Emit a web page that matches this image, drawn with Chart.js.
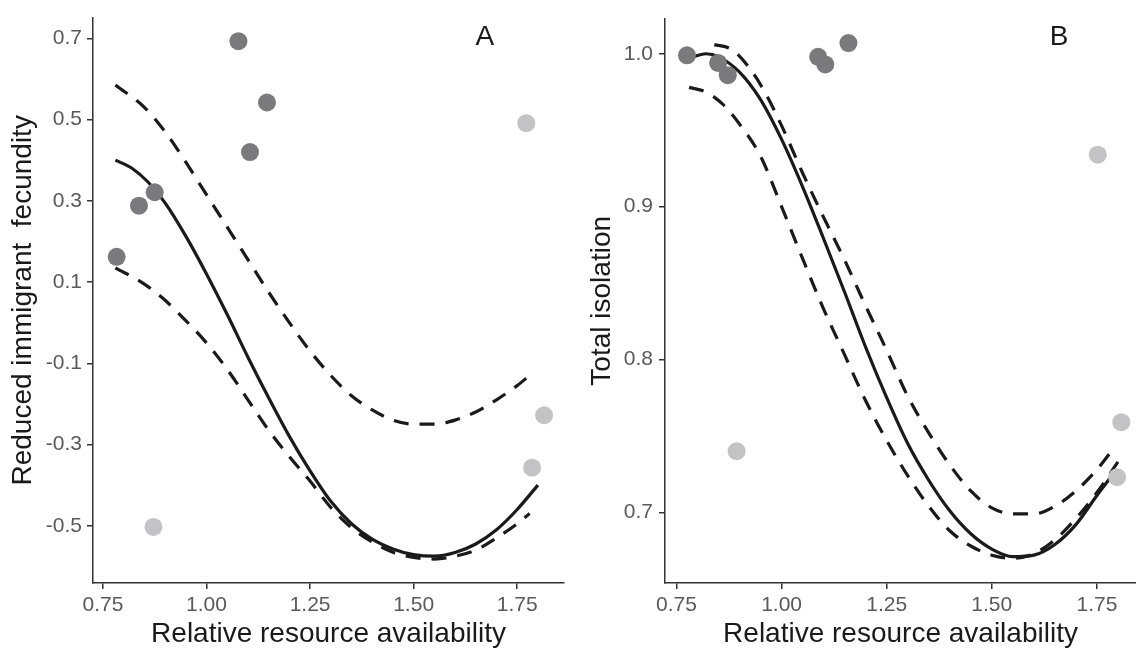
<!DOCTYPE html>
<html>
<head>
<meta charset="utf-8">
<script src="https://cdn.jsdelivr.net/npm/chart.js@4/dist/chart.umd.min.js"></script>
<style>
  body { margin: 0; background: #fff; }
  #wrap { position: relative; width: 1136px; height: 648px; }
  canvas { position: absolute; top: 0; }
  #panelA { left: 0; }
  #panelB { left: 568px; }
</style>
</head>
<body>
<div id="wrap">
  <canvas id="panelA" width="568" height="648"></canvas>
  <canvas id="panelB" width="568" height="648"></canvas>
</div>
<script>
// tick labels
const xTicks = [0.75, 1.00, 1.25, 1.50, 1.75];
const yTicksA = [-0.5, -0.3, -0.1, 0.1, 0.3, 0.5, 0.7];
const yTicksB = [0.7, 0.8, 0.9, 1.0];

// panel A: reduced immigrant fecundity
const darkXA = [0.783, 0.837, 0.875, 1.077, 1.105, 1.146];
const darkYA = [0.162, 0.288, 0.321, 0.693, 0.420, 0.542];
const lightXA = [0.872, 1.772, 1.815, 1.786];
const lightYA = [-0.503, 0.491, -0.228, -0.357];

const fitXA = [0.78, 0.82, 0.86, 0.90, 0.95, 1.00, 1.05, 1.10, 1.15, 1.20, 1.25, 1.30, 1.35, 1.40, 1.45, 1.50, 1.55, 1.60, 1.65, 1.70, 1.75, 1.80];
const fitYA = [0.40, 0.38, 0.345, 0.295, 0.213, 0.12, 0.02, -0.085, -0.185, -0.28, -0.365, -0.44, -0.495, -0.533, -0.557, -0.571, -0.575, -0.566, -0.545, -0.51, -0.46, -0.40];
const bandXA = [0.78, 0.85, 0.90, 0.95, 1.00, 1.05, 1.10, 1.15, 1.20, 1.25, 1.30, 1.35, 1.40, 1.45, 1.50, 1.55, 1.60, 1.65, 1.70, 1.75, 1.78];
const upperYA = [0.585, 0.53, 0.47, 0.395, 0.315, 0.235, 0.155, 0.075, 0.0, -0.07, -0.13, -0.18, -0.215, -0.24, -0.25, -0.25, -0.24, -0.22, -0.19, -0.155, -0.13];
const lowerYA = [0.135, 0.095, 0.055, 0.005, -0.05, -0.115, -0.19, -0.265, -0.33, -0.39, -0.455, -0.505, -0.54, -0.565, -0.578, -0.582, -0.575, -0.56, -0.53, -0.495, -0.47];

// panel B: total isolation
const darkXB = [0.775, 0.849, 0.872, 1.087, 1.104, 1.159];
const darkYB = [0.999, 0.994, 0.986, 0.998, 0.993, 1.007];
const lightXB = [0.893, 1.752, 1.808, 1.798];
const lightYB = [0.740, 0.934, 0.759, 0.723];

const fitXB = [0.79, 0.82, 0.85, 0.90, 0.95, 1.00, 1.05, 1.10, 1.15, 1.20, 1.25, 1.30, 1.35, 1.40, 1.45, 1.50, 1.55, 1.60, 1.65, 1.70, 1.75, 1.78];
const fitYB = [0.998, 1.000, 0.998, 0.988, 0.970, 0.944, 0.913, 0.879, 0.844, 0.808, 0.775, 0.745, 0.721, 0.701, 0.686, 0.676, 0.671, 0.672, 0.679, 0.692, 0.711, 0.722];
const upperXB = [0.84, 0.88, 0.92, 0.96, 1.00, 1.05, 1.10, 1.15, 1.20, 1.25, 1.30, 1.35, 1.40, 1.45, 1.50, 1.55, 1.60, 1.65, 1.70, 1.75, 1.79];
const upperYB = [1.006, 1.003, 0.992, 0.975, 0.953, 0.922, 0.893, 0.865, 0.835, 0.806, 0.776, 0.752, 0.731, 0.714, 0.703, 0.699, 0.699, 0.704, 0.714, 0.728, 0.742];
const lowerXB = [0.78, 0.82, 0.86, 0.90, 0.95, 1.00, 1.05, 1.10, 1.15, 1.20, 1.25, 1.30, 1.35, 1.40, 1.45, 1.50, 1.55, 1.60, 1.65, 1.70, 1.75, 1.80];
const lowerYB = [0.978, 0.975, 0.967, 0.954, 0.933, 0.900, 0.866, 0.833, 0.803, 0.773, 0.747, 0.724, 0.704, 0.688, 0.678, 0.672, 0.670, 0.673, 0.682, 0.696, 0.713, 0.733];

const darkGrey = '#7a7a7d';
const lightGrey = '#c3c3c5';
const ink = '#1a1a1a';
const fontFam = '"Liberation Sans", Arial, sans-serif';

function pts(xs, ys) {
  return xs.map((x, i) => ({ x: x, y: ys[i] }));
}

const letterPlugin = {
  id: 'panelLetter',
  afterDraw(chart, args, o) {
    const ctx = chart.ctx;
    ctx.save();
    ctx.font = '28px ' + fontFam;
    ctx.fillStyle = ink;
    ctx.textAlign = 'center';
    ctx.textBaseline = 'middle';
    ctx.fillText(o.text, chart.scales.x.getPixelForValue(o.x), chart.scales.y.getPixelForValue(o.y));
    ctx.restore();
  }
};

function pointSet(data, color) {
  return { data: data, showLine: false, pointRadius: 9, pointHoverRadius: 9,
           backgroundColor: color, borderWidth: 0, order: 0 };
}
function curve(data, dash) {
  return { data: data, showLine: true, pointRadius: 0, borderColor: ink, borderWidth: 3.2,
           borderDash: dash, borderCapStyle: 'butt', cubicInterpolationMode: 'monotone',
           fill: false, order: 1 };
}

function makePanel(id, p) {
  new Chart(document.getElementById(id), {
    type: 'scatter',
    data: {
      datasets: [
        pointSet(pts(p.darkX, p.darkY), darkGrey),
        pointSet(pts(p.lightX, p.lightY), lightGrey),
        curve(pts(p.fitX, p.fitY), []),
        curve(pts(p.upX, p.upY), [15, 11]),
        curve(pts(p.loX, p.loY), [15, 11])
      ]
    },
    options: {
      responsive: false,
      animation: false,
      clip: false,
      layout: { autoPadding: false, padding: { top: 12, right: p.padRight, left: 0, bottom: 0 } },
      plugins: {
        legend: { display: false },
        tooltip: { enabled: false },
        panelLetter: p.letter
      },
      scales: {
        x: {
          type: 'linear', min: p.xMin, max: p.xMax,
          afterBuildTicks: s => { s.ticks = xTicks.map(v => ({ value: v })); },
          afterFit: s => { s.height = 65; },
          ticks: { callback: v => v.toFixed(2), color: '#5a5a5a', padding: 4,
                   font: { size: 21, family: fontFam } },
          grid: { drawOnChartArea: false, drawTicks: true, tickLength: 6, color: '#333', lineWidth: 1.5 },
          border: { display: true, color: '#333', width: 1.5 },
          title: { display: true, text: 'Relative resource availability', color: ink,
                   font: { size: 28, family: fontFam, lineHeight: 1 }, padding: { top: 0, bottom: 0 } }
        },
        y: {
          type: 'linear', min: p.yMin, max: p.yMax,
          afterBuildTicks: s => { s.ticks = p.yTicks.map(v => ({ value: v })); },
          afterFit: s => { s.width = p.yWidth; },
          ticks: { callback: v => v.toFixed(1), color: '#5a5a5a', padding: p.yTickPad,
                   font: { size: 21, family: fontFam } },
          grid: { drawOnChartArea: false, drawTicks: true, tickLength: 6, color: '#333', lineWidth: 1.5 },
          border: { display: true, color: '#333', width: 1.5 },
          title: { display: true, text: p.yTitle, color: ink,
                   font: { size: 28, family: fontFam, lineHeight: 1 }, padding: { top: p.yTitlePad, bottom: 0 } }
        }
      }
    },
    plugins: [letterPlugin]
  });
}

makePanel('panelA', {
  darkX: darkXA, darkY: darkYA, lightX: lightXA, lightY: lightYA,
  fitX: fitXA, fitY: fitYA, upX: bandXA, upY: upperYA, loX: bandXA, loY: lowerYA,
  xMin: 0.726, xMax: 1.863, yMin: -0.641, yMax: 0.751, yTicks: yTicksA,
  yWidth: 93, yTickPad: 5, yTitlePad: 9, padRight: 4,
  yTitle: 'Reduced immigrant  fecundity',
  letter: { text: 'A', x: 1.672, y: 0.703 }
});

makePanel('panelB', {
  darkX: darkXB, darkY: darkYB, lightX: lightXB, lightY: lightYB,
  fitX: fitXB, fitY: fitYB, upX: upperXB, upY: upperYB, loX: lowerXB, loY: lowerYB,
  xMin: 0.7227, xMax: 1.843, yMin: 0.6538, yMax: 1.023, yTicks: yTicksB,
  yWidth: 97, yTickPad: 6, yTitlePad: 20, padRight: 0,
  yTitle: 'Total isolation',
  letter: { text: 'B', x: 1.66, y: 1.011 }
});
</script>
</body>
</html>
